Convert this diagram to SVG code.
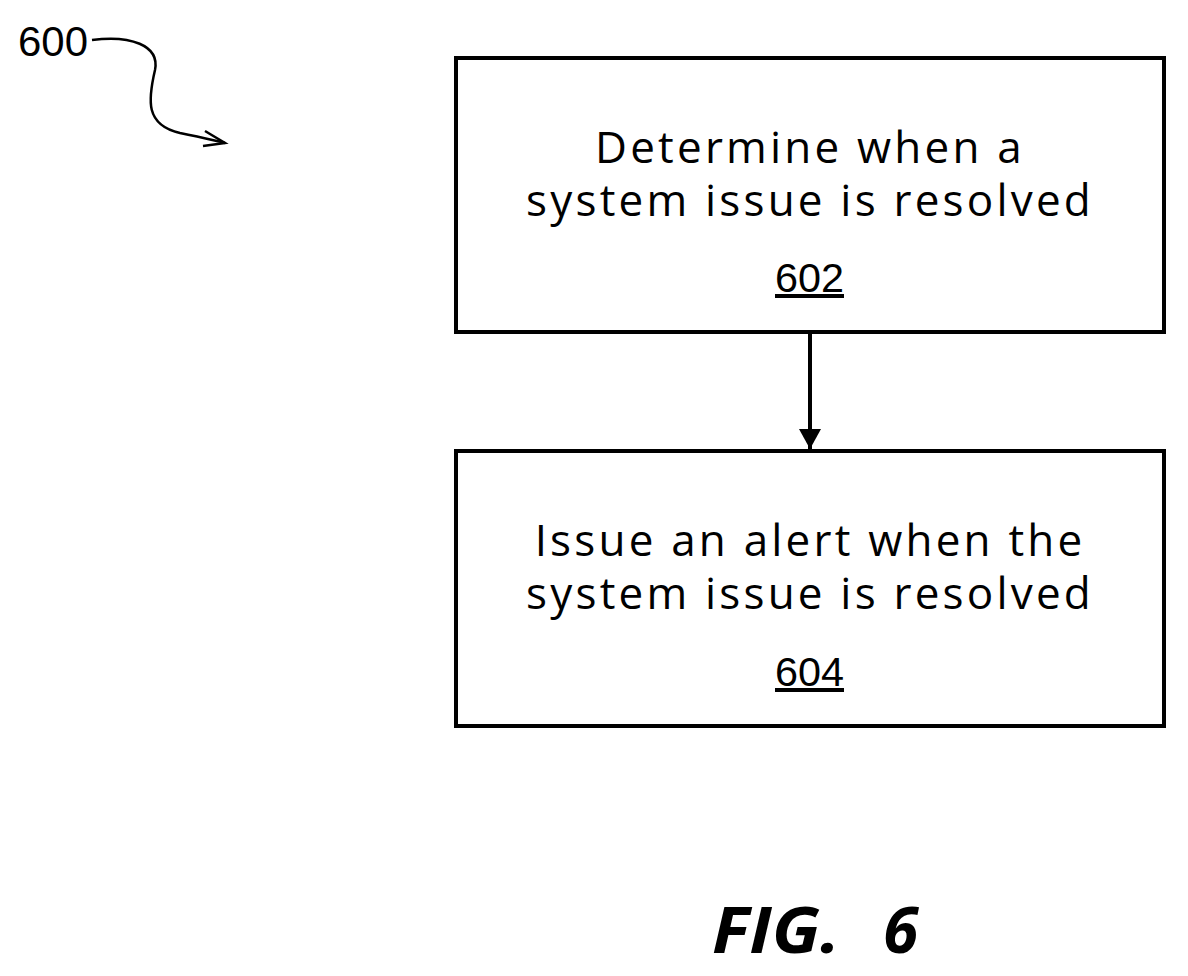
<svg xmlns="http://www.w3.org/2000/svg" width="1188" height="976" viewBox="0 0 1188 976">
<style>
.box{fill:#fff;stroke:#000;stroke-width:4}
.t{font-family:"Open Sans","Noto Sans",sans-serif;font-size:44px;letter-spacing:3.2px;text-anchor:middle;fill:#000}
.n{font-family:"Liberation Sans",sans-serif;font-size:40px;text-decoration:underline;fill:#000}
</style>
<defs>
<marker id="ah" markerWidth="20" markerHeight="34" refX="20" refY="17" orient="auto" markerUnits="userSpaceOnUse" viewBox="0 0 20 34"><path d="M0,6 L20,17 L0,28 z" fill="#000"/></marker>
</defs>
<g id="label600">
<text x="18" y="56" font-family="Liberation Sans,sans-serif" font-size="42" textLength="70" lengthAdjust="spacingAndGlyphs">600</text>
</g>
<g id="n602">
<rect class="box" x="456" y="58" width="708" height="274"/>
<text class="t" x="810" y="163">Determine when a</text>
<text class="t" x="810" y="216">system issue is resolved</text>
<text class="n" x="775" y="292" textLength="69" lengthAdjust="spacingAndGlyphs">602</text>
</g>
<g id="n604">
<rect class="box" x="456" y="451" width="708" height="275"/>
<text class="t" x="810" y="556">Issue an alert when the</text>
<text class="t" x="810" y="609">system issue is resolved</text>
<text class="n" x="775" y="686" textLength="69" lengthAdjust="spacingAndGlyphs">604</text>
</g>
<g id="connectors" fill="none" stroke="#000">
<path d="M92,40 C130,35 160,45 155,70 C148,100 145,125 180,133 C200,137 212,140 225,143" stroke-width="2.5"/>
<path d="M205,131 L225,143 L203,146" stroke-width="2.5"/>
<line x1="810" y1="333" x2="810" y2="449" stroke-width="4" marker-end="url(#ah)"/>
</g>
<text y="953" font-family="Open Sans,sans-serif" font-size="64" font-weight="bold" font-style="italic"><tspan x="712" textLength="128" lengthAdjust="spacingAndGlyphs">FIG.</tspan><tspan x="883">6</tspan></text>
</svg>
